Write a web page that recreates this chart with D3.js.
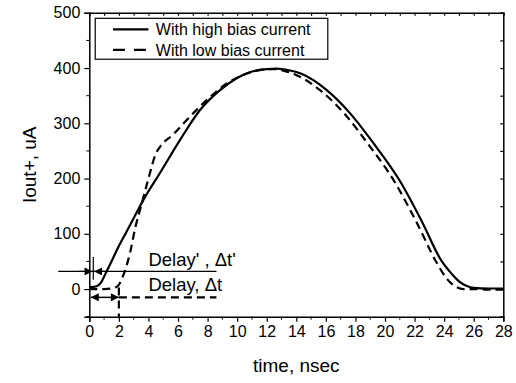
<!DOCTYPE html>
<html>
<head>
<meta charset="utf-8">
<script src="https://cdn.jsdelivr.net/npm/d3@7"></script>
<style>
  body { margin: 0; background: #fff; }
  svg { font-family: Arial, "Liberation Sans", sans-serif; }
</style>
</head>
<body>
<svg id="chart"></svg>
<script>
// series (time in nsec, current in uA)
var highTime = [0, 0.5, 0.8, 1.1, 1.5, 2.0, 2.5, 3.0, 3.65, 4.78, 6.14, 7.49, 8.84, 10.0, 10.8, 12.0, 12.7, 13.5, 14.3, 16.06, 17.64, 19.22, 21.0, 22.5, 23.8, 24.5, 25.0, 25.5, 26.0, 27.0, 28.0]
var highCurrent = [3, 5, 12, 28, 50, 78, 103, 128, 161, 210, 270, 324, 360, 382, 392, 398, 399, 396, 390, 360, 318, 264, 196, 122, 52, 28, 14, 6, 2, 1, 1]

var lowTime = [0, 1.0, 1.5, 1.9, 2.3, 2.75, 3.1, 3.5, 4.0, 4.5, 4.8, 5.68, 6.59, 7.94, 9.3, 10.65, 12.0, 12.6, 13.3, 13.95, 15.7, 17.3, 18.87, 20.65, 22.15, 23.45, 24.2, 24.8, 25.3, 26.0, 27.0, 28.0]
var lowCurrent = [0, 0, 1, 5, 25, 65, 110, 150, 200, 245, 258, 280, 306, 342, 372, 390, 398, 398, 394, 388, 358, 316, 262, 194, 120, 50, 18, 4, 0, 0, -1, -1]

var seriesNames = ["With high bias current", "With low bias current"]
var xTicks = [0, 2, 4, 6, 8, 10, 12, 14, 16, 18, 20, 22, 24, 26, 28]
var yTicks = [0, 100, 200, 300, 400, 500]

// delay annotations, in data units
var delayHigh = { y: 32, from: -2.1, to: 8.6, start: 0.27, end: 1.1, label: "Delay' , \u0394t'" }
var delayLow = { y: -15, start: 0.1, end: 2.0, lineTo: 8.6, label: "Delay, \u0394t" }

var dimensions = {
    width: 516,
    height: 383,
    margin: { top: 12.8, bottom: 66.3, left: 89.3, right: 12.7 }
}

var svg = d3.select("#chart")
    .attr("width", dimensions.width)
    .attr("height", dimensions.height)

var xScale = d3.scaleLinear()
    .domain([0, 28])
    .range([dimensions.margin.left, dimensions.width - dimensions.margin.right])

var yScale = d3.scaleLinear()
    .domain([-50, 500])
    .range([dimensions.height - dimensions.margin.bottom, dimensions.margin.top])

var x0 = xScale.range()[0], x1 = xScale.range()[1]
var y0 = yScale.range()[0], y1 = yScale.range()[1]

// minor ticks
var xMinor = d3.range(1, 28, 2)
var yMinor = d3.range(-50, 500, 100)

var defs = svg.append("defs")
defs.append("marker")
    .attr("id", "arrow")
    .attr("viewBox", "0 0 10 10")
    .attr("refX", 10).attr("refY", 5)
    .attr("markerWidth", 11).attr("markerHeight", 8)
    .attr("markerUnits", "userSpaceOnUse")
    .attr("orient", "auto-start-reverse")
    .append("path")
    .attr("d", "M0,0 L10,5 L0,10 z")
    .attr("fill", "#000")

// axes
var bottomAxis = svg.append("g")
    .attr("transform", "translate(0," + y0 + ")")
    .call(d3.axisBottom(xScale).tickValues(xTicks).tickSize(5).tickPadding(4).tickFormat(d3.format("d")))
bottomAxis.append("g").selectAll("line").data(xMinor).enter().append("line")
    .attr("x1", d => xScale(d)).attr("x2", d => xScale(d))
    .attr("y1", 0).attr("y2", 3).attr("stroke", "#000")

var leftAxis = svg.append("g")
    .attr("transform", "translate(" + x0 + ",0)")
    .call(d3.axisLeft(yScale).tickValues(yTicks).tickSize(5).tickPadding(4).tickFormat(d3.format("d")))
leftAxis.append("g").selectAll("line").data(yMinor).enter().append("line")
    .attr("y1", d => yScale(d)).attr("y2", d => yScale(d))
    .attr("x1", 0).attr("x2", -3).attr("stroke", "#000")

var topAxis = svg.append("g")
    .attr("transform", "translate(0," + y1 + ")")
    .call(d3.axisBottom(xScale).tickValues(xTicks.concat(xMinor)).tickSize(3).tickFormat(""))

var rightAxis = svg.append("g")
    .attr("transform", "translate(" + x1 + ",0)")
    .call(d3.axisLeft(yScale).tickValues(yTicks.concat(yMinor)).tickSize(3).tickFormat(""))

svg.selectAll(".domain").attr("stroke-width", 1.5)
svg.selectAll(".tick line").attr("stroke-width", 1.2)
svg.selectAll(".tick text").attr("font-size", "16px").attr("fill", "#000")

// axis titles
svg.append("text")
    .attr("x", (x0 + x1) / 2)
    .attr("y", 372)
    .attr("text-anchor", "middle")
    .attr("font-size", "19px")
    .text("time, nsec")

svg.append("text")
    .attr("transform", "translate(36," + ((y0 + y1) / 2) + ") rotate(-90)")
    .attr("text-anchor", "middle")
    .attr("font-size", "19px")
    .text("Iout+, uA")

// curves
var line = d3.line()
    .x(d => xScale(d[0]))
    .y(d => yScale(d[1]))
    .curve(d3.curveMonotoneX)

svg.append("path")
    .datum(highTime.map((t, i) => [t, highCurrent[i]]))
    .attr("d", line)
    .attr("fill", "none")
    .attr("stroke", "#000")
    .attr("stroke-width", 2.2)

svg.append("path")
    .datum(lowTime.map((t, i) => [t, lowCurrent[i]]))
    .attr("d", line)
    .attr("fill", "none")
    .attr("stroke", "#000")
    .attr("stroke-width", 2.2)
    .attr("stroke-dasharray", "8,5")

// delay annotation for high bias
svg.append("line")
    .attr("x1", xScale(delayHigh.from)).attr("x2", xScale(delayHigh.to))
    .attr("y1", yScale(delayHigh.y)).attr("y2", yScale(delayHigh.y))
    .attr("stroke", "#000").attr("stroke-width", 1.2)
svg.append("line")
    .attr("x1", xScale(delayHigh.start)).attr("x2", xScale(delayHigh.start))
    .attr("y1", yScale(delayHigh.y + 26)).attr("y2", yScale(delayHigh.y - 15))
    .attr("stroke", "#000").attr("stroke-width", 1.2)
svg.append("line")
    .attr("x1", xScale(delayHigh.start - 1.0)).attr("x2", xScale(delayHigh.start - 0.05))
    .attr("y1", yScale(delayHigh.y)).attr("y2", yScale(delayHigh.y))
    .attr("stroke", "#000").attr("stroke-width", 1.2)
    .attr("marker-end", "url(#arrow)")
svg.append("line")
    .attr("x1", xScale(delayHigh.end + 0.2)).attr("x2", xScale(delayHigh.start + 0.05))
    .attr("y1", yScale(delayHigh.y)).attr("y2", yScale(delayHigh.y))
    .attr("stroke", "#000").attr("stroke-width", 1.2)
    .attr("marker-end", "url(#arrow)")
svg.append("text")
    .attr("x", xScale(4.0))
    .attr("y", yScale(delayHigh.y) - 5)
    .attr("font-size", "18.5px")
    .text(delayHigh.label)

// delay annotation for low bias
svg.append("line")
    .attr("x1", xScale(delayLow.end)).attr("x2", xScale(delayLow.end))
    .attr("y1", yScale(3)).attr("y2", y0)
    .attr("stroke", "#000").attr("stroke-width", 2.2)
    .attr("stroke-dasharray", "8,5")
svg.append("line")
    .attr("x1", xScale(delayLow.end)).attr("x2", xScale(delayLow.lineTo))
    .attr("y1", yScale(delayLow.y)).attr("y2", yScale(delayLow.y))
    .attr("stroke", "#000").attr("stroke-width", 2.2)
    .attr("stroke-dasharray", "8,5")
svg.append("line")
    .attr("x1", xScale(delayLow.start)).attr("x2", xScale(delayLow.end))
    .attr("y1", yScale(delayLow.y)).attr("y2", yScale(delayLow.y))
    .attr("stroke", "#000").attr("stroke-width", 1.5)
    .attr("marker-start", "url(#arrow)")
    .attr("marker-end", "url(#arrow)")
svg.append("text")
    .attr("x", xScale(4.0))
    .attr("y", yScale(delayLow.y) - 6)
    .attr("font-size", "18.5px")
    .text(delayLow.label)

// legend
var legend = svg.append("g")
legend.append("rect")
    .attr("x", xScale(0.4)).attr("y", yScale(490))
    .attr("width", xScale(16.13) - xScale(0.4))
    .attr("height", yScale(416) - yScale(490))
    .attr("fill", "#fff").attr("stroke", "#000").attr("stroke-width", 1.2)

seriesNames.forEach(function (name, i) {
    var ly = yScale(470 - i * 37)
    legend.append("line")
        .attr("x1", xScale(1.6)).attr("x2", xScale(4.0))
        .attr("y1", ly).attr("y2", ly)
        .attr("stroke", "#000").attr("stroke-width", 2.2)
        .attr("stroke-dasharray", i === 1 ? "12,9" : null)
    legend.append("text")
        .attr("x", xScale(4.5))
        .attr("y", ly + 6)
        .attr("font-size", "16px")
        .text(name)
})
</script>
</body>
</html>
